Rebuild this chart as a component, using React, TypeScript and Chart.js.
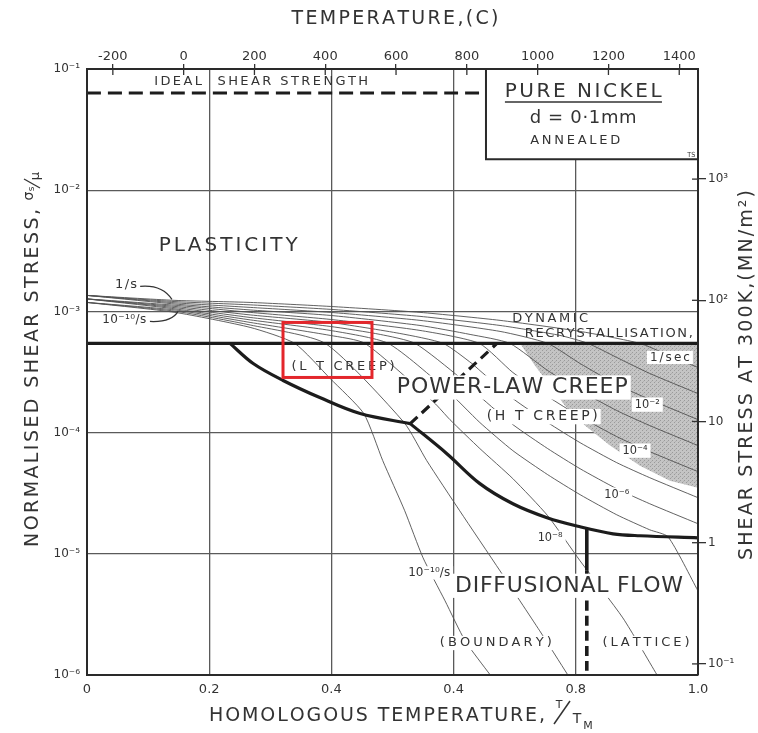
import React, { useEffect, useRef } from "react";
import { Chart, registerables } from "chart.js";

Chart.register(...registerables);

type P = [number, number]; // [T/TM, log10(sigma_s / mu)]

// ---------- axes ----------
const homologousTicks = [0, 0.2, 0.4, 0.6, 0.8, 1.0];
const homologousTickLabels = ["0", "0.2", "0.4", "0.4", "0.8", "1.0"];
const stressDecades = [1e-6, 1e-5, 1e-4, 1e-3, 1e-2, 1e-1];
const stressTickLabels = ["10⁻⁶", "10⁻⁵", "10⁻⁴", "10⁻³", "10⁻²", "10⁻¹"];
const temperatureTicksC = [-200, 0, 200, 400, 600, 800, 1000, 1200, 1400];
const absoluteZeroC = -273;
const meltingPointC = 1453;
const shearModulusMN = 8.1e4;
const stress300KTicks = [0.1, 1, 10, 100, 1000];
const stress300KLabels = ["10⁻¹", "1", "10", "10²", "10³"];

// ---------- strain-rate contours (1/s ... 1e-10/s) ----------
const rate1e0: P[] = [[0, -2.868], [0.144, -2.909], [0.267, -2.926], [0.398, -2.959], [0.545, -3.008], [0.676, -3.074], [0.807, -3.165], [0.905, -3.264], [0.949, -3.355], [1, -3.463]];
const rate1em1: P[] = [[0, -2.868], [0.144, -2.919], [0.267, -2.946], [0.398, -2.983], [0.545, -3.041], [0.676, -3.116], [0.774, -3.198], [0.82, -3.264], [0.867, -3.38], [0.921, -3.512], [1, -3.678]];
const rate1em2: P[] = [[0, -2.868], [0.144, -2.929], [0.267, -2.967], [0.398, -3.008], [0.545, -3.074], [0.676, -3.165], [0.754, -3.264], [0.807, -3.43], [0.867, -3.603], [0.921, -3.727], [1, -3.893]];
const rate1em3: P[] = [[0, -2.868], [0.144, -2.939], [0.267, -2.988], [0.398, -3.033], [0.545, -3.116], [0.627, -3.19], [0.692, -3.264], [0.754, -3.488], [0.807, -3.653], [0.867, -3.818], [0.921, -3.942], [1, -4.107]];
const rate1em4: P[] = [[0, -2.897], [0.144, -2.949], [0.267, -3.008], [0.398, -3.066], [0.545, -3.157], [0.642, -3.264], [0.697, -3.504], [0.754, -3.702], [0.807, -3.868], [0.867, -4.033], [0.921, -4.157], [1, -4.322]];
const rate1em5: P[] = [[0, -2.897], [0.144, -2.959], [0.267, -3.029], [0.398, -3.091], [0.512, -3.182], [0.583, -3.264], [0.63, -3.43], [0.643, -3.488], [0.697, -3.719], [0.754, -3.917], [0.807, -4.083], [0.867, -4.248], [0.921, -4.372], [1, -4.537]];
const rate1em6: P[] = [[0, -2.897], [0.144, -2.969], [0.267, -3.05], [0.398, -3.124], [0.48, -3.19], [0.537, -3.264], [0.61, -3.545], [0.643, -3.702], [0.697, -3.934], [0.754, -4.132], [0.807, -4.298], [0.867, -4.463], [0.921, -4.587], [1, -4.752]];
const rate1em7: P[] = [[0, -2.897], [0.144, -2.979], [0.267, -3.07], [0.398, -3.157], [0.493, -3.264], [0.588, -3.645], [0.643, -3.917], [0.697, -4.149], [0.754, -4.347], [0.807, -4.512], [0.867, -4.678], [0.921, -4.802], [0.951, -4.86], [1, -5.306]];
const rate1em8: P[] = [[0, -2.926], [0.144, -2.988], [0.267, -3.091], [0.398, -3.198], [0.455, -3.264], [0.568, -3.752], [0.594, -3.893], [0.643, -4.132], [0.697, -4.38], [0.754, -4.686], [0.807, -5.058], [0.877, -5.529], [0.933, -6.0]];
const rate1em9: P[] = [[0, -2.926], [0.144, -2.998], [0.267, -3.112], [0.39, -3.264], [0.519, -3.917], [0.556, -4.231], [0.61, -4.645], [0.676, -5.141], [0.741, -5.636], [0.787, -6.0]];
const rate1em10: P[] = [[0, -2.926], [0.144, -3.008], [0.267, -3.132], [0.34, -3.264], [0.398, -3.554], [0.453, -3.843], [0.484, -4.231], [0.52, -4.645], [0.55, -5.033], [0.586, -5.388], [0.619, -5.719], [0.66, -6.0]];

// ---------- field boundaries ----------
const drxBoundary: P[] = [[0, -3.264], [1, -3.264]];
const creepDiffusionUpper: P[] = [[0.234, -3.264], [0.272, -3.43], [0.321, -3.57], [0.381, -3.711], [0.447, -3.843], [0.529, -3.926]];
const creepDiffusionLower: P[] = [[0.529, -3.926], [0.589, -4.174], [0.643, -4.421], [0.697, -4.587], [0.753, -4.702], [0.807, -4.777], [0.861, -4.835], [0.905, -4.851], [1, -4.868]];
const ltHtBoundary: P[] = [[0.529, -3.926], [0.671, -3.264]];
const boundaryLatticeSolid: P[] = [[0.818, -4.793], [0.818, -5.14]];
const boundaryLatticeDashed: P[] = [[0.818, -5.14], [0.818, -6.0]];
const idealShearStrength: P[] = [[0, -1.198], [0.653, -1.198]];
const dynamicRecrystallisation: P[] = [[0.709, -3.264], [1, -3.264], [1, -4.455], [0.954, -4.397], [0.905, -4.273], [0.856, -4.107], [0.815, -3.942], [0.782, -3.777], [0.758, -3.612], [0.733, -3.446], [0.709, -3.264]];

// ---------- annotation layout ----------
const legendBox = { x0: 0.653, yLog: -1.744 };
const highlightBox = { x0: 0.3208, x1: 0.4664, yTop: -3.091, yBottom: -3.545 };
type Lab = { text: string; x: number; l: number; size: number; w: number; bg?: boolean };
const regionLabels: Lab[] = [
  { text: "PLASTICITY", x: 0.231, l: -2.455, size: 20, w: 139 },
  { text: "IDEAL  SHEAR STRENGTH", x: 0.285, l: -1.107, size: 13, w: 214 },
  { text: "DYNAMIC", x: 0.758, l: -3.058, size: 13, w: 76 },
  { text: "RECRYSTALLISATION,", x: 0.854, l: -3.182, size: 13, w: 168 },
  { text: "1/sec", x: 0.954, l: -3.38, size: 12, w: 40, bg: true },
  { text: "10⁻²", x: 0.917, l: -3.769, size: 13, w: 25, bg: true },
  { text: "10⁻⁴", x: 0.897, l: -4.149, size: 13, w: 25, bg: true },
  { text: "10⁻⁶", x: 0.867, l: -4.512, size: 13, w: 25, bg: true },
  { text: "10⁻⁸", x: 0.758, l: -4.868, size: 13, w: 25, bg: true },
  { text: "10⁻¹⁰/s", x: 0.56, l: -5.157, size: 12, w: 42, bg: true },
  { text: "(L T CREEP)", x: 0.419, l: -3.455, size: 13, w: 103 },
  { text: "POWER-LAW CREEP", x: 0.696, l: -3.628, size: 22, w: 231, bg: true },
  { text: "(H T CREEP)", x: 0.745, l: -3.868, size: 14, w: 111, bg: true },
  { text: "DIFFUSIONAL FLOW", x: 0.789, l: -5.264, size: 22, w: 228, bg: true },
  { text: "(BOUNDARY)", x: 0.669, l: -5.736, size: 13, w: 112, bg: true },
  { text: "(LATTICE)", x: 0.915, l: -5.736, size: 13, w: 87, bg: true },
  { text: "1/s", x: 0.064, l: -2.777, size: 13, w: 22, bg: true },
  { text: "10⁻¹⁰/s", x: 0.061, l: -3.074, size: 12, w: 44, bg: true },
  { text: "PURE NICKEL", x: 0.812, l: -1.19, size: 20, w: 157 },
  { text: "d = 0·1mm", x: 0.812, l: -1.405, size: 18, w: 107 },
  { text: "ANNEALED", x: 0.799, l: -1.587, size: 13, w: 90 },
  { text: "TS", x: 0.989, l: -1.711, size: 7, w: 8 },
];
const nickelUnderline = { x0: 0.684, x1: 0.941, l: -1.273 };
const fanLeaders: [P, P, P][] = [
  [[0.087, -2.793], [0.123, -2.777], [0.139, -2.901]],
  [[0.103, -3.083], [0.139, -3.091], [0.149, -3.0]],
];

const FONT = '"DejaVu Sans", "Liberation Sans", sans-serif';
const INK = "#333";

const toXY = (pts: P[]) => pts.map(([x, l]) => ({ x, y: Math.pow(10, l) }));

function spacedText(ctx: CanvasRenderingContext2D, text: string, cx: number, cy: number, size: number, width: number, bg = false) {
  ctx.save();
  ctx.font = `${size}px ${FONT}`;
  ctx.textBaseline = "middle";
  ctx.textAlign = "left";
  const chars = Array.from(text);
  const widths = chars.map((c) => ctx.measureText(c).width);
  const natural = widths.reduce((a, b) => a + b, 0);
  const n = chars.length;
  let gap = n > 1 && width ? (width - natural) / (n - 1) : 0;
  let sx = 1;
  if (gap < 0) {
    gap = 0;
    sx = width / natural;
  }
  const total = natural * sx + gap * (n - 1);
  if (bg) {
    ctx.fillStyle = "#fff";
    ctx.fillRect(cx - total / 2 - 3, cy - size * 0.55, total + 6, size * 1.1);
  }
  ctx.fillStyle = INK;
  let x = cx - total / 2;
  chars.forEach((c, i) => {
    ctx.save();
    ctx.translate(x, cy);
    ctx.scale(sx, 1);
    ctx.fillText(c, 0, 0);
    ctx.restore();
    x += widths[i] * sx + gap;
  });
  ctx.restore();
}

let grayPattern: CanvasPattern | null = null;
function getPattern(ctx: CanvasRenderingContext2D) {
  if (grayPattern) return grayPattern;
  const c = document.createElement("canvas");
  c.width = 4;
  c.height = 4;
  const g = c.getContext("2d")!;
  g.fillStyle = "#c4c4c4";
  g.fillRect(0, 0, 4, 4);
  g.fillStyle = "#9a9a9a";
  g.fillRect(0, 0, 1, 1);
  g.fillRect(2, 2, 1, 1);
  g.fillStyle = "#b0b0b0";
  g.fillRect(3, 1, 1, 1);
  grayPattern = ctx.createPattern(c, "repeat");
  return grayPattern!;
}

const decorPlugin = {
  id: "decor",
  beforeDatasetsDraw(chart: any) {
    const { ctx, chartArea: a, scales } = chart;
    const X = (v: number) => scales.x.getPixelForValue(v);
    const Y = (l: number) => scales.y.getPixelForValue(Math.pow(10, l));
    ctx.save();
    ctx.beginPath();
    ctx.rect(a.left, a.top, a.right - a.left, a.bottom - a.top);
    ctx.clip();
    ctx.beginPath();
    dynamicRecrystallisation.forEach(([x, l], i) => (i ? ctx.lineTo(X(x), Y(l)) : ctx.moveTo(X(x), Y(l))));
    ctx.closePath();
    ctx.fillStyle = getPattern(ctx);
    ctx.fill();
    const bx = X(legendBox.x0);
    const by = Y(legendBox.yLog);
    ctx.fillStyle = "#fff";
    ctx.fillRect(bx, a.top, a.right - bx, by - a.top);
    ctx.strokeStyle = "#2a2a2a";
    ctx.lineWidth = 2;
    ctx.beginPath();
    ctx.moveTo(bx, a.top);
    ctx.lineTo(bx, by);
    ctx.lineTo(a.right, by);
    ctx.stroke();
    ctx.restore();
  },
  afterDatasetsDraw(chart: any) {
    const { ctx, scales } = chart;
    const X = (v: number) => scales.x.getPixelForValue(v);
    const Y = (l: number) => scales.y.getPixelForValue(Math.pow(10, l));
    ctx.save();
    regionLabels.forEach((lb) => spacedText(ctx, lb.text, X(lb.x), Y(lb.l), lb.size, lb.w, !!lb.bg));
    ctx.strokeStyle = INK;
    ctx.lineWidth = 1.5;
    ctx.beginPath();
    ctx.moveTo(X(nickelUnderline.x0), Y(nickelUnderline.l));
    ctx.lineTo(X(nickelUnderline.x1), Y(nickelUnderline.l));
    ctx.stroke();
    ctx.lineWidth = 1.2;
    fanLeaders.forEach(([s, c, e]) => {
      ctx.beginPath();
      ctx.moveTo(X(s[0]), Y(s[1]));
      ctx.quadraticCurveTo(X(c[0]), Y(c[1]), X(e[0]), Y(e[1]));
      ctx.stroke();
    });
    ctx.strokeStyle = "#e3262b";
    ctx.lineWidth = 3;
    const x0 = X(highlightBox.x0), x1 = X(highlightBox.x1);
    const y0 = Y(highlightBox.yTop), y1 = Y(highlightBox.yBottom);
    ctx.strokeRect(x0, y0, x1 - x0, y1 - y0);
    ctx.restore();
  },
  afterDraw(chart: any) {
    const { ctx, chartArea: a, scales } = chart;
    ctx.save();
    ctx.strokeStyle = "#333";
    ctx.lineWidth = 1.3;
    temperatureTicksC.forEach((t) => {
      const x = scales.xTop.getPixelForValue(t);
      ctx.beginPath();
      ctx.moveTo(x, a.top);
      ctx.lineTo(x, a.top + 6);
      ctx.stroke();
    });
    stress300KTicks.forEach((v) => {
      const y = scales.yR.getPixelForValue(v);
      ctx.beginPath();
      ctx.moveTo(a.right - 6, y);
      ctx.lineTo(a.right, y);
      ctx.stroke();
    });
    spacedText(ctx, "TEMPERATURE,(C)", 395, 19, 19, 207);
    spacedText(ctx, "HOMOLOGOUS TEMPERATURE,", 377, 716, 19, 336);
    ctx.fillStyle = INK;
    ctx.font = `11px ${FONT}`;
    ctx.textBaseline = "middle";
    ctx.textAlign = "center";
    ctx.fillText("T", 559, 705);
    ctx.font = `14px ${FONT}`;
    ctx.fillText("T", 577, 719);
    ctx.font = `11px ${FONT}`;
    ctx.fillText("M", 588, 726);
    ctx.strokeStyle = INK;
    ctx.lineWidth = 1.5;
    ctx.beginPath();
    ctx.moveTo(554, 724);
    ctx.lineTo(570, 701);
    ctx.stroke();
    ctx.save();
    ctx.translate(33, 378);
    ctx.rotate(-Math.PI / 2);
    spacedText(ctx, "NORMALISED SHEAR STRESS,", 0, 0, 19, 338);
    ctx.fillStyle = INK;
    ctx.font = `14px ${FONT}`;
    ctx.textAlign = "center";
    ctx.textBaseline = "middle";
    ctx.fillText("σ", 182, -4);
    ctx.font = `9px ${FONT}`;
    ctx.fillText("s", 189, -1);
    ctx.font = `13px ${FONT}`;
    ctx.fillText("μ", 202, 3);
    ctx.lineWidth = 1.3;
    ctx.beginPath();
    ctx.moveTo(190, 7);
    ctx.lineTo(199, -9);
    ctx.stroke();
    ctx.restore();
    ctx.save();
    ctx.translate(747, 375);
    ctx.rotate(-Math.PI / 2);
    spacedText(ctx, "SHEAR STRESS AT 300K,(MN/m²)", 0, 0, 19, 370);
    ctx.restore();
    ctx.restore();
  },
};

function line(pts: P[], opts: any) {
  return {
    data: toXY(pts),
    showLine: true,
    pointRadius: 0,
    fill: false,
    borderColor: "#505050",
    borderWidth: 0.9,
    tension: 0.2,
    ...opts,
  };
}

const THICK = { borderColor: "#1c1c1c", borderWidth: 3.2 };

export default function App() {
  const ref = useRef<HTMLCanvasElement>(null);
  useEffect(() => {
    const contours = [rate1e0, rate1em1, rate1em2, rate1em3, rate1em4, rate1em5, rate1em6, rate1em7, rate1em8, rate1em9, rate1em10];
    const datasets = [
      line(drxBoundary, THICK),
      line(creepDiffusionUpper, { ...THICK, tension: 0.35 }),
      line(creepDiffusionLower, { ...THICK, tension: 0.35 }),
      line(ltHtBoundary, { ...THICK, borderDash: [10, 6] }),
      line(boundaryLatticeSolid, { ...THICK, borderWidth: 3.6 }),
      line(boundaryLatticeDashed, { ...THICK, borderWidth: 3.6, borderDash: [10, 5] }),
      line(idealShearStrength, { ...THICK, borderWidth: 3, borderDash: [14, 7] }),
      ...contours.map((c) => line(c, {})),
    ];
    const border = { display: true, color: "#2a2a2a", width: 2, z: 1 };
    const chart = new Chart(ref.current as HTMLCanvasElement, {
      type: "scatter",
      data: { datasets: datasets as any },
      options: {
        responsive: false,
        maintainAspectRatio: false,
        animation: false,
        events: [],
        layout: { padding: 0 },
        plugins: { legend: { display: false }, tooltip: { enabled: false } },
        scales: {
          x: {
            type: "linear",
            position: "bottom",
            min: 0,
            max: 1,
            afterBuildTicks: (s: any) => {
              s.ticks = homologousTicks.map((v) => ({ value: v }));
            },
            afterFit: (s: any) => {
              s.height = 58;
            },
            ticks: { callback: (_v: any, i: number) => homologousTickLabels[i], font: { family: FONT, size: 13 }, color: INK, padding: 7, autoSkip: false, maxRotation: 0 },
            grid: { color: "#5a5a5a", lineWidth: 1.3, drawTicks: false },
            border,
          },
          xTop: {
            type: "linear",
            position: "top",
            min: absoluteZeroC,
            max: meltingPointC,
            afterBuildTicks: (s: any) => {
              s.ticks = temperatureTicksC.map((v) => ({ value: v }));
            },
            afterFit: (s: any) => {
              s.height = 69;
            },
            ticks: { callback: (v: any) => String(v), font: { family: FONT, size: 13 }, color: INK, padding: 0, autoSkip: false, maxRotation: 0 },
            grid: { drawOnChartArea: false, drawTicks: true, tickLength: 5, color: "#333", lineWidth: 1.3 },
            border,
          },
          y: {
            type: "logarithmic",
            position: "left",
            min: 1e-6,
            max: 1e-1,
            afterBuildTicks: (s: any) => {
              s.ticks = stressDecades.map((v) => ({ value: v }));
            },
            afterFit: (s: any) => {
              s.width = 87;
            },
            ticks: { callback: (_v: any, i: number) => stressTickLabels[i], font: { family: FONT, size: 12 }, color: INK, padding: 7, autoSkip: false },
            grid: { color: "#5a5a5a", lineWidth: 1.3, drawTicks: false },
            border,
          },
          yR: {
            type: "logarithmic",
            position: "right",
            min: 1e-6 * shearModulusMN,
            max: 1e-1 * shearModulusMN,
            afterBuildTicks: (s: any) => {
              s.ticks = stress300KTicks.map((v) => ({ value: v }));
            },
            afterFit: (s: any) => {
              s.width = 60;
            },
            ticks: { callback: (_v: any, i: number) => stress300KLabels[i], font: { family: FONT, size: 12 }, color: INK, padding: 2, autoSkip: false },
            grid: { drawOnChartArea: false, drawTicks: true, tickLength: 8, color: "#333", lineWidth: 1.3 },
            border,
          },
        },
      } as any,
      plugins: [decorPlugin],
    });
    return () => chart.destroy();
  }, []);
  return (
    <div style={{ position: "fixed", left: 0, top: 0, width: 758, height: 733, background: "#fff" }}>
      <canvas ref={ref} width={758} height={733} style={{ display: "block", width: 758, height: 733 }} />
    </div>
  );
}
